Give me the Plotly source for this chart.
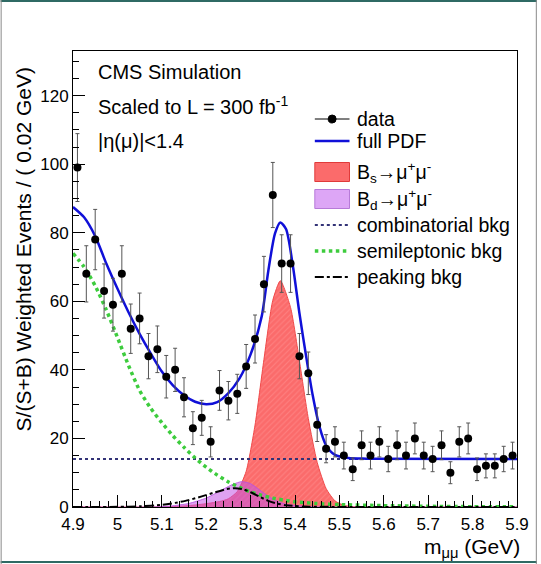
import plotly.graph_objects as go

# ---------------- data ----------------
mass = [4.91, 4.93, 4.95, 4.97, 4.99, 5.01, 5.03, 5.05, 5.07, 5.09,
        5.11, 5.13, 5.15, 5.17, 5.19, 5.21, 5.23, 5.25, 5.27, 5.29,
        5.31, 5.33, 5.35, 5.37, 5.39, 5.41, 5.43, 5.45, 5.47, 5.49,
        5.51, 5.53, 5.55, 5.57, 5.59, 5.61, 5.63, 5.65, 5.67, 5.69,
        5.71, 5.73, 5.75, 5.77, 5.79, 5.81, 5.83, 5.85, 5.87, 5.89]
events = [99, 68, 78, 63, 59, 68, 52, 55, 44, 46,
          38, 40, 32, 23, 26, 19, 34, 31, 33, 41,
          49, 65, 91, 71, 71, 44, 39, 24, 17, 19,
          15, 11, 18, 15, 19, 14, 18, 15, 20, 15,
          14, 18, 10, 19, 20, 11, 12, 12, 14, 15]
errors = [9.9, 8.2, 8.8, 7.9, 7.7, 8.2, 7.2, 7.4, 6.6, 6.8,
          6.2, 6.3, 5.7, 4.8, 5.1, 4.4, 5.8, 5.6, 5.7, 6.4,
          7.0, 8.1, 9.5, 8.4, 8.4, 6.6, 6.2, 4.9, 4.1, 4.4,
          3.9, 3.3, 4.2, 3.9, 4.4, 3.7, 4.2, 3.9, 4.5, 3.9,
          3.7, 4.2, 3.2, 4.4, 4.5, 3.3, 3.5, 3.5, 3.7, 3.9]

pdf_x = [4.90, 4.925, 4.95, 4.975, 5.00, 5.025, 5.05, 5.075, 5.10, 5.125,
         5.15, 5.175, 5.20, 5.225, 5.25, 5.275, 5.30, 5.325, 5.34, 5.355,
         5.367, 5.38, 5.395, 5.41, 5.425, 5.44, 5.455, 5.47, 5.49, 5.52,
         5.56, 5.90]
pdf_y = [87.5, 84.5, 79.0, 71.0, 63.7, 56.8, 50.5, 44.8, 39.5, 35.5,
         32.6, 30.7, 30.0, 30.6, 33.2, 37.5, 44.5, 55.6, 69.0, 79.8,
         83.0, 81.0, 70.5, 56.5, 44.0, 32.5, 23.5, 18.0, 15.2, 14.3,
         14.1, 14.0]

bs_x = [4.90, 5.10, 5.15, 5.19, 5.23, 5.25, 5.27, 5.29, 5.31, 5.33, 5.35,
        5.367, 5.39, 5.41, 5.43, 5.45, 5.47, 5.49, 5.51, 5.53, 5.56, 5.90]
bs_y = [0.0, 0.0, 0.3, 0.8, 1.6, 2.4, 4.5, 10.4, 23.9, 43.0, 60.3,
        66.0, 58.2, 42.6, 25.8, 13.0, 5.4, 1.8, 0.5, 0.1, 0.0, 0.0]

bd_x = [4.90, 5.08, 5.12, 5.16, 5.20, 5.22, 5.24, 5.26, 5.28, 5.30,
        5.32, 5.34, 5.36, 5.38, 5.42, 5.46, 5.90]
bd_y = [0.0, 0.0, 0.3, 1.0, 2.6, 3.9, 5.3, 6.6, 7.4, 6.8,
        5.0, 3.1, 1.7, 0.8, 0.2, 0.0, 0.0]

comb_x = [4.90, 5.90]
comb_y = [14.0, 14.0]

semi_x = [4.90, 4.925, 4.95, 4.975, 5.00, 5.025, 5.05, 5.075, 5.10, 5.125,
          5.15, 5.175, 5.20, 5.225, 5.25, 5.275, 5.30, 5.325, 5.35, 5.375,
          5.40, 5.45, 5.50, 5.60, 5.70, 5.80, 5.90]
semi_y = [74.0, 70.0, 64.5, 57.5, 49.5, 41.3, 34.0, 28.8, 24.6, 20.8,
          17.4, 14.3, 11.6, 9.3, 7.3, 5.7, 4.4, 3.4, 2.6, 2.0,
          1.5, 1.0, 0.7, 0.4, 0.2, 0.1, 0.05]

peak_x = [4.90, 5.00, 5.05, 5.10, 5.13, 5.16, 5.19, 5.22, 5.245, 5.265,
          5.285, 5.30, 5.32, 5.34, 5.36, 5.38, 5.42, 5.46, 5.90]
peak_y = [0.0, 0.05, 0.2, 0.6, 1.2, 2.0, 3.1, 4.3, 5.2, 5.5,
          5.1, 4.3, 3.0, 1.8, 1.0, 0.5, 0.15, 0.05, 0.0]

x_tick_vals = [4.9, 5.0, 5.1, 5.2, 5.3, 5.4, 5.5, 5.6, 5.7, 5.8, 5.9]
x_tick_text = ["4.9", "5", "5.1", "5.2", "5.3", "5.4", "5.5", "5.6", "5.7", "5.8", "5.9"]
y_tick_vals = [0, 20, 40, 60, 80, 100, 120]
y_tick_text = ["0", "20", "40", "60", "80", "100", "120"]

legend_labels = ["data", "full PDF", "B<sub>s</sub>→μ<sup>+</sup>μ<sup>-</sup>",
                 "B<sub>d</sub>→μ<sup>+</sup>μ<sup>-</sup>", "combinatorial bkg",
                 "semileptonic bkg", "peaking bkg"]

# ---------------- styles ----------------
FONT = "Liberation Sans, Arial, Helvetica, sans-serif"
BLUE = "#1010d8"
NAVY = "#333377"
GREEN = "#3dcc3d"
RED_FILL = "#fb6b6b"
RED_LINE = "#f04a4a"
VIOLET_FILL = "rgba(195,85,230,0.55)"
VIOLET_LINE = "rgba(185,80,225,0.85)"

W, H = 541, 564
ML, MR, MT, MB = 73, 20, 51, 57
PW, PH = W - ML - MR, H - MT - MB


def px(x):
    return (x - ML) / PW


def py(y):
    return (H - MB - y) / PH


fig = go.Figure()
fig.add_trace(go.Scatter(x=bs_x, y=bs_y, mode="lines", fill="tozeroy",
                         fillcolor=RED_FILL,
                         fillpattern=dict(shape="/", bgcolor=RED_FILL, fgcolor="#ff9090",
                                          fgopacity=0.6, size=4, solidity=0.25),
                         line=dict(color=RED_LINE, width=1, shape="spline", smoothing=0.6)))
fig.add_trace(go.Scatter(x=bd_x, y=bd_y, mode="lines", fill="tozeroy",
                         fillcolor=VIOLET_FILL,
                         line=dict(color=VIOLET_LINE, width=1, shape="spline", smoothing=0.6)))
fig.add_trace(go.Scatter(x=comb_x, y=comb_y, mode="lines",
                         line=dict(color=NAVY, width=2, dash="dot")))
fig.add_trace(go.Scatter(x=semi_x, y=semi_y, mode="lines",
                         line=dict(color=GREEN, width=3.5, dash="dot", shape="spline", smoothing=0.6)))
fig.add_trace(go.Scatter(x=peak_x, y=peak_y, mode="lines",
                         line=dict(color="black", width=2, dash="dashdot", shape="spline", smoothing=0.6)))
fig.add_trace(go.Scatter(x=pdf_x, y=pdf_y, mode="lines",
                         line=dict(color=BLUE, width=2.5, shape="spline", smoothing=0.7)))
fig.add_trace(go.Scatter(x=mass, y=events, mode="markers",
                         marker=dict(color="black", size=8, symbol="circle"),
                         error_y=dict(type="data", array=errors, color="#555555",
                                      thickness=1, width=2)))

# ---------------- custom ROOT-like legend ----------------
rows = [119, 141, 172, 199, 225, 251, 277]
sx0, sx1, tx = 317, 352, 358
shapes = []
annotations = []
shapes.append(dict(type="line", xref="paper", yref="paper", x0=px(sx0), x1=px(sx1),
                   y0=py(rows[0]), y1=py(rows[0]), line=dict(color="black", width=1)))
shapes.append(dict(type="circle", xref="paper", yref="paper", x0=px(330.5), x1=px(338.5),
                   y0=py(rows[0] + 4), y1=py(rows[0] - 4), fillcolor="black",
                   line=dict(color="black", width=1)))
shapes.append(dict(type="line", xref="paper", yref="paper", x0=px(sx0), x1=px(sx1),
                   y0=py(rows[1]), y1=py(rows[1]), line=dict(color=BLUE, width=2.5)))
shapes.append(dict(type="rect", xref="paper", yref="paper", x0=px(sx0), x1=px(sx1),
                   y0=py(rows[2] + 9.5), y1=py(rows[2] - 9.5), fillcolor=RED_FILL,
                   line=dict(color="#e03a3a", width=1)))
shapes.append(dict(type="rect", xref="paper", yref="paper", x0=px(sx0), x1=px(sx1),
                   y0=py(rows[3] + 9.5), y1=py(rows[3] - 9.5), fillcolor="#dda6f6",
                   line=dict(color="#b77ad8", width=1)))
shapes.append(dict(type="line", xref="paper", yref="paper", x0=px(sx0), x1=px(sx1),
                   y0=py(rows[4]), y1=py(rows[4]), line=dict(color=NAVY, width=2, dash="dot")))
shapes.append(dict(type="line", xref="paper", yref="paper", x0=px(sx0), x1=px(sx1),
                   y0=py(rows[5]), y1=py(rows[5]), line=dict(color=GREEN, width=3.5, dash="dot")))
shapes.append(dict(type="line", xref="paper", yref="paper", x0=px(sx0), x1=px(sx1),
                   y0=py(rows[6]), y1=py(rows[6]), line=dict(color="black", width=2, dash="dashdot")))
for r, lab in zip(rows, legend_labels):
    annotations.append(dict(text=lab, xref="paper", yref="paper", x=px(tx), y=py(r),
                            xanchor="left", yanchor="middle", showarrow=False,
                            font=dict(family=FONT, size=19.5, color="black")))

for txt, yy in [("CMS Simulation", 72), ("Scaled to L = 300 fb<sup>-1</sup>", 105),
                ("|η(μ)|<1.4", 141)]:
    annotations.append(dict(text=txt, xref="paper", yref="paper", x=px(96), y=py(yy),
                            xanchor="left", yanchor="middle", showarrow=False,
                            font=dict(family=FONT, size=20, color="black")))

annotations.append(dict(text="S/(S+B) Weighted Events / ( 0.02 GeV)", xref="paper", yref="paper",
                        x=px(23), y=py(249), textangle=-90, xanchor="center", yanchor="middle",
                        showarrow=False, font=dict(family=FONT, size=21, color="black")))
annotations.append(dict(text="m<sub>μμ</sub> (GeV)", xref="paper", yref="paper",
                        x=px(526), y=py(548), xanchor="right", yanchor="middle",
                        showarrow=False, font=dict(family=FONT, size=21, color="black")))

# outer frame of the picture
shapes.append(dict(type="line", xref="paper", yref="paper", x0=px(0), x1=px(W),
                   y0=py(1), y1=py(1), line=dict(color="#2f6a64", width=2)))
shapes.append(dict(type="line", xref="paper", yref="paper", x0=px(0), x1=px(W),
                   y0=py(H - 2), y1=py(H - 2), line=dict(color="#2f6a64", width=2)))
shapes.append(dict(type="line", xref="paper", yref="paper", x0=px(0.5), x1=px(0.5),
                   y0=py(0), y1=py(H), line=dict(color="#8a8a8a", width=1)))
shapes.append(dict(type="line", xref="paper", yref="paper", x0=px(W - 0.5), x1=px(W - 0.5),
                   y0=py(0), y1=py(H), line=dict(color="#8a8a8a", width=1)))

fig.update_layout(
    width=W, height=H,
    margin=dict(l=ML, r=MR, t=MT, b=MB, pad=0),
    paper_bgcolor="white", plot_bgcolor="white",
    showlegend=False,
    font=dict(family=FONT, color="black"),
    shapes=shapes, annotations=annotations,
    xaxis=dict(range=[4.9, 5.9], tickvals=x_tick_vals, ticktext=x_tick_text,
               ticks="inside", ticklen=12, tickwidth=1, tickcolor="black",
               showline=True, linecolor="black", linewidth=1, mirror=True,
               showgrid=False, zeroline=False, tickfont=dict(size=17),
               ticklabelstandoff=2,
               minor=dict(tick0=4.9, dtick=0.02, ticks="inside", ticklen=6,
                          tickcolor="black", tickwidth=1, showgrid=False)),
    yaxis=dict(range=[0, 133], tickvals=y_tick_vals, ticktext=y_tick_text,
               ticks="inside", ticklen=12, tickwidth=1, tickcolor="black",
               showline=True, linecolor="black", linewidth=1, mirror=True,
               showgrid=False, zeroline=False, tickfont=dict(size=17),
               minor=dict(tick0=0, dtick=5, ticks="inside", ticklen=6,
                          tickcolor="black", tickwidth=1, showgrid=False)),
)

fig.write_html("out.html")
